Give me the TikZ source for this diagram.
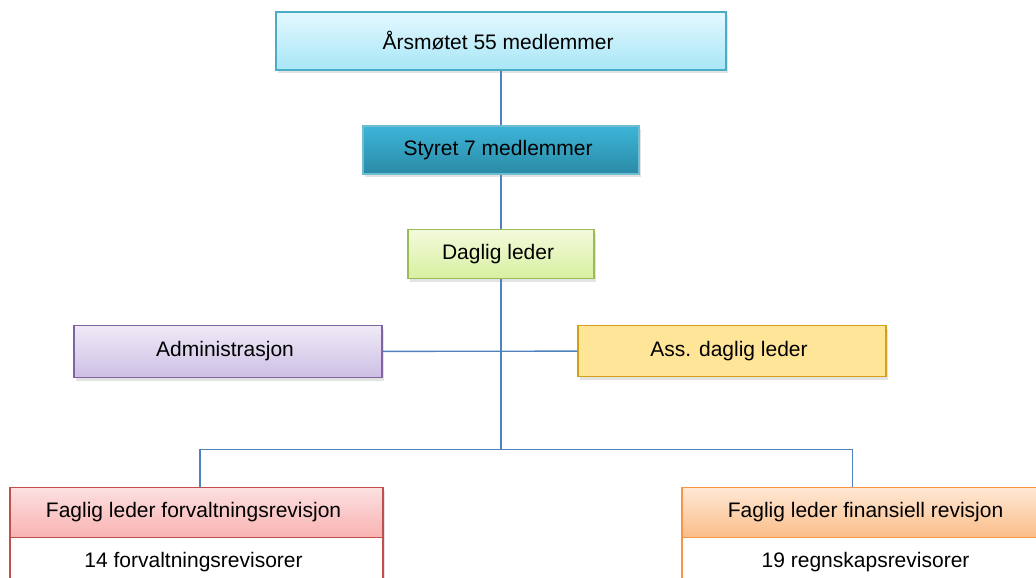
\documentclass[tikz,border=0pt]{standalone}
\usepackage{fontspec}
\setmainfont{Liberation Sans}
\usetikzlibrary{positioning,shadows}
\definecolor{linkblue}{HTML}{4F81BD}
\definecolor{cyanline}{HTML}{4BACC6}
\definecolor{greenline}{HTML}{9BBB59}
\definecolor{violetline}{HTML}{8064A2}
\definecolor{goldline}{HTML}{D4A017}
\definecolor{redline}{HTML}{C0504D}
\definecolor{orangeline}{HTML}{F79646}
\definecolor{cyantop}{HTML}{E3F8FE}
\definecolor{cyanbot}{HTML}{A8E6F7}
\definecolor{tealtop}{HTML}{3DB5D8}
\definecolor{tealbot}{HTML}{2A8AA6}
\definecolor{greentop}{HTML}{F3FADC}
\definecolor{greenbot}{HTML}{D8F0A0}
\definecolor{violettop}{HTML}{EFEAF6}
\definecolor{violetbot}{HTML}{CDBFE5}
\definecolor{goldfill}{HTML}{FFE597}
\definecolor{redtop}{HTML}{FCE0E0}
\definecolor{redbot}{HTML}{F9B2B2}
\definecolor{orangetop}{HTML}{FEE8D5}
\definecolor{orangebot}{HTML}{FBBD88}
\tikzset{
    unit/.style={
        rectangle,
        line width=1.2pt,
        align=center,
        font=\fontsize{21}{25}\selectfont,
        drop shadow={shadow xshift=2pt, shadow yshift=-3pt, opacity=0.22},
    },
    link/.style={
        draw=linkblue,
        line width=1.4pt,
    },
}

\begin{document}
\begin{tikzpicture}[
    x=1pt,
    y=-1pt,
    on grid]

\useasboundingbox (0,0) rectangle (1036,578);

% annual meeting
\node
[
    unit,
    draw=cyanline,
    top color=cyantop,
    bottom color=cyanbot,
    minimum width=450pt,
    minimum height=58pt
] (aars) at (501,41)
{
    Årsmøtet 55 medlemmer
};
% board
\node
[
    unit,
    draw=cyanline!80,
    top color=tealtop,
    bottom color=tealbot,
    minimum width=276pt,
    minimum height=48pt
] (styret) [below=109pt of aars]
{
    Styret 7 medlemmer
};
% manager
\node
[
    unit,
    draw=greenline,
    top color=greentop,
    bottom color=greenbot,
    minimum width=186pt,
    minimum height=49pt
] (daglig) [below=104pt of styret]
{
    Daglig leder
};
% administration
\node
[
    unit,
    draw=violetline,
    top color=violettop,
    bottom color=violetbot,
    minimum width=308pt,
    minimum height=52pt
] (admin) [below left=97.5pt and 273pt of daglig]
{
    Administrasjon
};
% assistant manager
\node
[
    unit,
    draw=goldline,
    fill=goldfill,
    minimum width=308pt,
    minimum height=51pt
] (ass) [below right=97pt and 231pt of daglig]
{
    Ass. daglig leder
};
% performance audit
\node
[
    unit,
    draw=redline,
    top color=redtop,
    bottom color=redbot,
    minimum width=373pt,
    minimum height=50pt
] (forv) [below left=258.5pt and 304.5pt of daglig]
{
    Faglig leder forvaltningsrevisjon
};
\node
[
    unit,
    draw=redline,
    fill=white,
    drop shadow={opacity=0},
    minimum width=373pt,
    minimum height=50pt
] (forvstab) [below=50pt of forv]
{
    14 forvaltningsrevisorer
};
% financial audit
\node
[
    unit,
    draw=orangeline,
    top color=orangetop,
    bottom color=orangebot,
    minimum width=373pt,
    minimum height=50pt
] (fin) [below right=258.5pt and 367.5pt of daglig]
{
    Faglig leder finansiell revisjon
};
\node
[
    unit,
    draw=orangeline,
    fill=white,
    drop shadow={opacity=0},
    minimum width=373pt,
    minimum height=50pt
] (finstab) [below=50pt of fin]
{
    19 regnskapsrevisorer
};

% Lines
\coordinate [below=195.5pt of daglig] (hub);
\draw [link] (aars) -- (styret);
\draw [link] (styret) -- (daglig);
\draw [link] (admin) -- (ass);
\draw [link] (daglig) -- (hub);
\draw [link] (hub) -| ([xshift=3.5pt]forv.north);
\draw [link] (hub) -| ([xshift=-16pt]fin.north);

\end{tikzpicture}
\end{document}
